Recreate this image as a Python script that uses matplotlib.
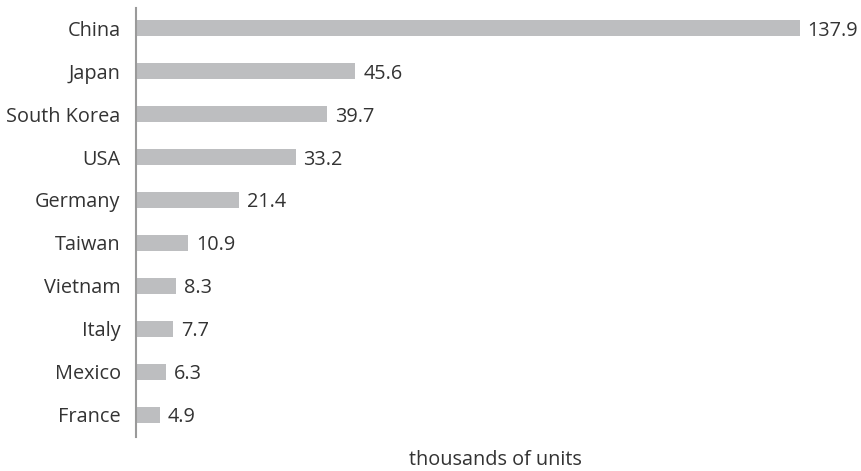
import matplotlib.pyplot as plt

countries = ["China", "Japan", "South Korea", "USA", "Germany",
             "Taiwan", "Vietnam", "Italy", "Mexico", "France"]
units = [137.9, 45.6, 39.7, 33.2, 21.4, 10.9, 8.3, 7.7, 6.3, 4.9]

plt.rcParams['font.family'] = ['Open Sans', 'DejaVu Sans']
text_col = '#333333'
fs = 14.3

fig = plt.figure(figsize=(8.62, 4.71), dpi=100)
ax = fig.add_axes([136 / 862, 1 - 437 / 471, 722 / 862, 429 / 471])

pos = list(range(len(countries)))
ax.barh(pos, units, height=0.37, color='#bdbec0', left=0)
for y, v in zip(pos, units):
    ax.text(v + 1.6, y, f"{v:.1f}", va='center_baseline', ha='left',
            fontsize=fs, color=text_col)

ax.set_xlim(0, 150)
ax.set_ylim(9.52, -0.47)
ax.set_yticks(pos)
ax.set_yticklabels(countries, fontsize=fs, color=text_col,
                   va='center_baseline')
ax.tick_params(axis='y', length=0, pad=11)
ax.set_xticks([])
for side in ['top', 'right', 'bottom']:
    ax.spines[side].set_visible(False)
ax.spines['left'].set_color('#9a9a9a')
ax.spines['left'].set_linewidth(1.5)

fig.text(495 / 862, 1 - 460 / 471, "thousands of units", ha='center',
         va='center', fontsize=fs, color=text_col)

fig.savefig('out.png', dpi=100)
